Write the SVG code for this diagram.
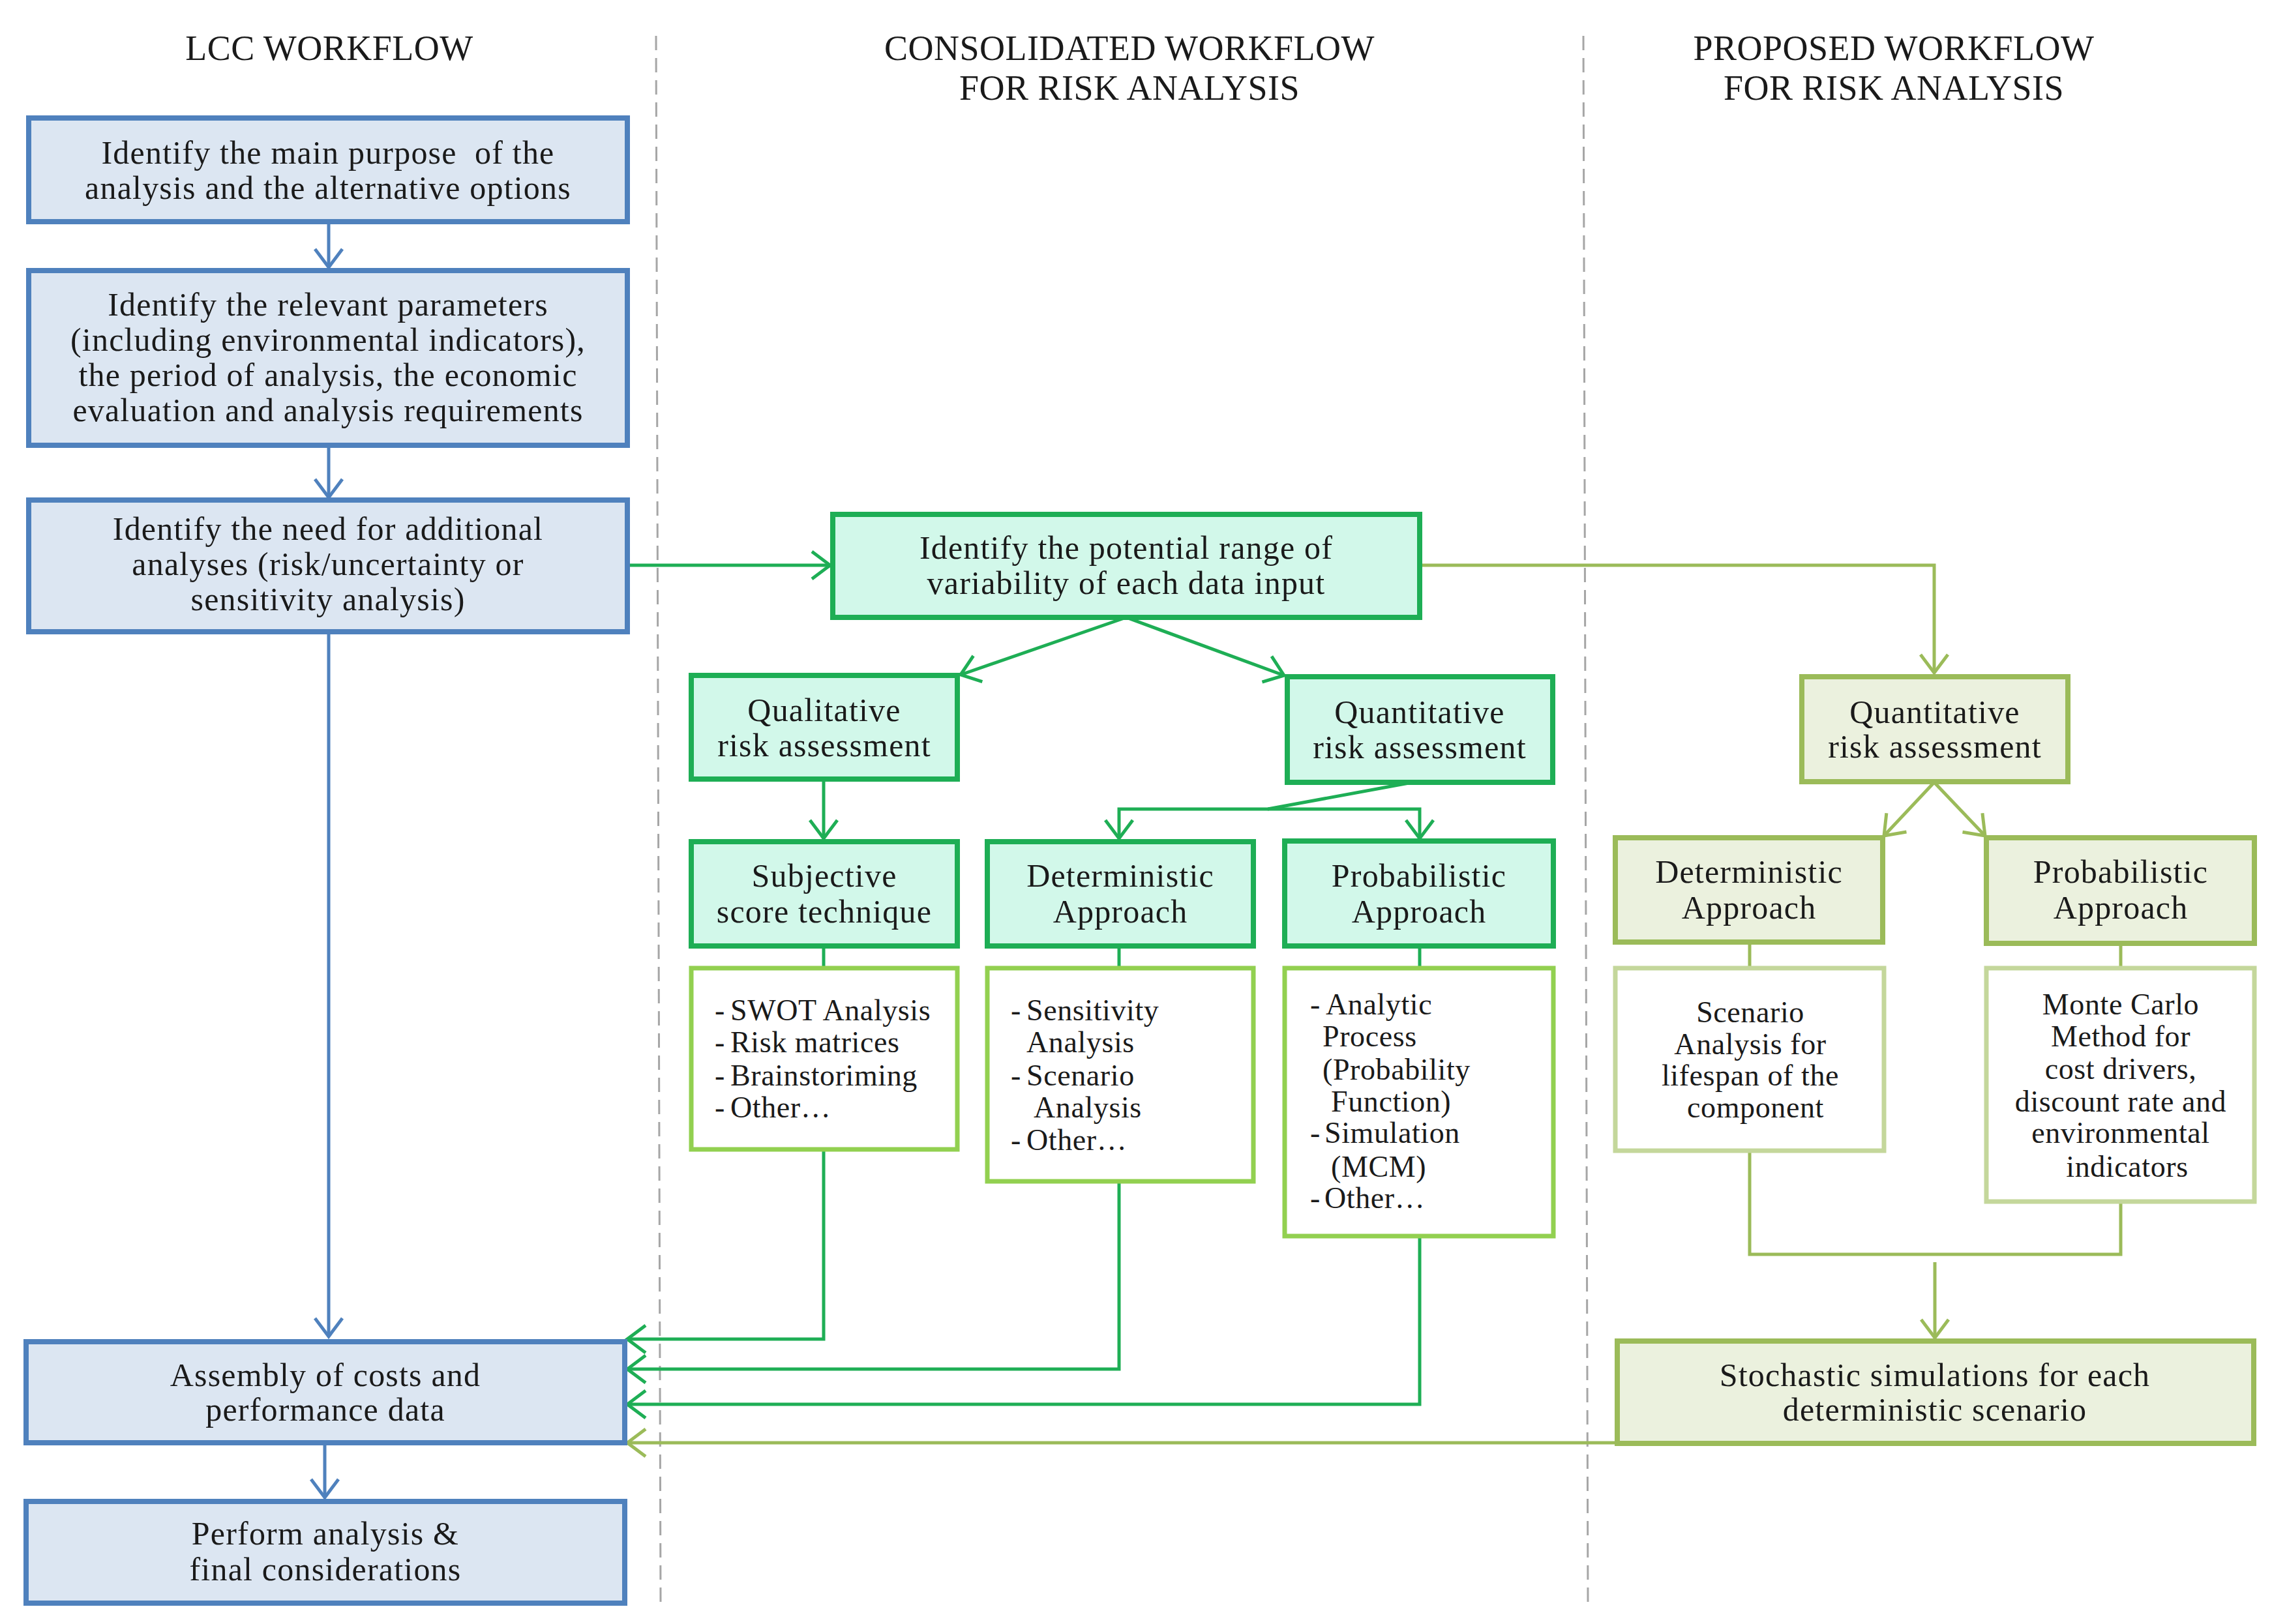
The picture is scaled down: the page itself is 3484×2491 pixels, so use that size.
<svg xmlns="http://www.w3.org/2000/svg" width="3484" height="2491" viewBox="0 0 3484 2491">
<style>
text{font-family:"Liberation Serif","Times New Roman",serif;fill:#1a1a1a}
.t{font-size:54px;letter-spacing:0.5px;text-anchor:middle}
.m{font-size:50px;letter-spacing:1.2px;text-anchor:middle}
.l{font-size:46px;letter-spacing:0.6px}
.lc{font-size:46px;letter-spacing:0.6px;text-anchor:middle}
.blue{fill:#DCE6F2;stroke:#4F81BD;stroke-width:8}
.grn{fill:#D2F8EA;stroke:#1EAE55;stroke-width:8}
.glist{fill:#FFFFFF;stroke:#92D050;stroke-width:7}
.olv{fill:#EBF1DE;stroke:#9BBB59;stroke-width:8}
.olist{fill:#FFFFFF;stroke:#C4D79B;stroke-width:7}
.cb{fill:none;stroke:#4F81BD;stroke-width:5}
.cg{fill:none;stroke:#1EAE55;stroke-width:5}
.co{fill:none;stroke:#9BBB59;stroke-width:5}
.dash{stroke:#A6A6A6;stroke-width:3;stroke-dasharray:22 12}
</style>
<defs>
<marker id="ab" markerUnits="userSpaceOnUse" markerWidth="36" markerHeight="50" viewBox="0 0 36 50" refX="32" refY="25" orient="auto"><path d="M4,4 L32,25 L4,46" fill="none" stroke="#4F81BD" stroke-width="5"/></marker>
<marker id="ag" markerUnits="userSpaceOnUse" markerWidth="36" markerHeight="50" viewBox="0 0 36 50" refX="32" refY="25" orient="auto"><path d="M4,4 L32,25 L4,46" fill="none" stroke="#1EAE55" stroke-width="5"/></marker>
<marker id="ao" markerUnits="userSpaceOnUse" markerWidth="36" markerHeight="50" viewBox="0 0 36 50" refX="32" refY="25" orient="auto"><path d="M4,4 L32,25 L4,46" fill="none" stroke="#9BBB59" stroke-width="5"/></marker>
</defs>
<rect width="3484" height="2491" fill="#FFFFFF"/>

<g id="separators">
<line class="dash" x1="1006" y1="55" x2="1013" y2="2457"/>
<line class="dash" x1="2428" y1="55" x2="2435" y2="2460"/>
</g>

<g id="titles">
<text class="t" x="505" y="92">LCC WORKFLOW</text>
<text class="t" x="1732" y="92">CONSOLIDATED WORKFLOW</text>
<text class="t" x="1732" y="153">FOR RISK ANALYSIS</text>
<text class="t" x="2904" y="92">PROPOSED WORKFLOW</text>
<text class="t" x="2904" y="153">FOR RISK ANALYSIS</text>
</g>

<g id="connectors">
<path class="cb" d="M504,340 L504,410" marker-end="url(#ab)"/>
<path class="cb" d="M504,683 L504,763" marker-end="url(#ab)"/>
<path class="cb" d="M504,969 L504,2050" marker-end="url(#ab)"/>
<path class="cb" d="M498,2213 L498,2297" marker-end="url(#ab)"/>

<path class="cg" d="M962,867 L1273,867" marker-end="url(#ag)"/>
<path class="cg" d="M1727,947 L1473,1035" marker-end="url(#ag)"/>
<path class="cg" d="M1727,947 L1969,1036" marker-end="url(#ag)"/>
<path class="cg" d="M1263,1195 L1263,1286" marker-end="url(#ag)"/>
<path class="cg" d="M2166,1200 L1944,1241 L1716,1241 L1716,1286" marker-end="url(#ag)"/>
<path class="cg" d="M1944,1241 L2177,1241 L2177,1286" marker-end="url(#ag)"/>
<path class="cg" d="M1263,1451 L1263,1485"/>
<path class="cg" d="M1716,1451 L1716,1485"/>
<path class="cg" d="M2177,1451 L2177,1485"/>
<path class="cg" d="M1263,1763 L1263,2054 L962,2054" marker-end="url(#ag)"/>
<path class="cg" d="M1716,1812 L1716,2100 L962,2100" marker-end="url(#ag)"/>
<path class="cg" d="M2177,1896 L2177,2154 L962,2154" marker-end="url(#ag)"/>

<path class="co" d="M2177,867 L2966,867 L2966,1032" marker-end="url(#ao)"/>
<path class="co" d="M2966,1200 L2889,1282" marker-end="url(#ao)"/>
<path class="co" d="M2966,1200 L3044,1282" marker-end="url(#ao)"/>
<path class="co" d="M2683,1445 L2683,1485"/>
<path class="co" d="M3252,1447 L3252,1485"/>
<path class="co" d="M2683,1765 L2683,1924 L3252,1924 L3252,1843"/>
<path class="co" d="M2967,1936 L2967,2052" marker-end="url(#ao)"/>
<path class="co" d="M2478,2213 L962,2213" marker-end="url(#ao)"/>
</g>

<g id="n-purpose">
<rect class="blue" x="44" y="181" width="918" height="159"/>
<text class="m" x="503" y="251" xml:space="preserve">Identify the main purpose  of the</text>
<text class="m" x="503" y="305">analysis and the alternative options</text>
</g>
<g id="n-parameters">
<rect class="blue" x="44" y="415" width="918" height="268"/>
<text class="m" x="503" y="484">Identify the relevant parameters</text>
<text class="m" x="503" y="538">(including environmental indicators),</text>
<text class="m" x="503" y="592">the period of analysis, the economic</text>
<text class="m" x="503" y="646">evaluation and analysis requirements</text>
</g>
<g id="n-need">
<rect class="blue" x="44" y="767" width="918" height="202"/>
<text class="m" x="503" y="828">Identify the need for additional</text>
<text class="m" x="503" y="882">analyses (risk/uncertainty or</text>
<text class="m" x="503" y="936">sensitivity analysis)</text>
</g>
<g id="n-assembly">
<rect class="blue" x="40" y="2058" width="918" height="155"/>
<text class="m" x="499" y="2126">Assembly of costs and</text>
<text class="m" x="499" y="2179">performance data</text>
</g>
<g id="n-perform">
<rect class="blue" x="40" y="2303" width="918" height="156"/>
<text class="m" x="499" y="2369">Perform analysis &amp;</text>
<text class="m" x="499" y="2424">final considerations</text>
</g>

<g id="n-range">
<rect class="grn" x="1277" y="789" width="900" height="158"/>
<text class="m" x="1727" y="857">Identify the potential range of</text>
<text class="m" x="1727" y="911">variability of each data input</text>
</g>
<g id="n-qualitative">
<rect class="grn" x="1060" y="1036" width="408" height="159"/>
<text class="m" x="1264" y="1106">Qualitative</text>
<text class="m" x="1264" y="1160">risk assessment</text>
</g>
<g id="n-quantitative-c">
<rect class="grn" x="1974" y="1038" width="407" height="162"/>
<text class="m" x="2177" y="1109">Quantitative</text>
<text class="m" x="2177" y="1163">risk assessment</text>
</g>
<g id="n-subjective">
<rect class="grn" x="1060" y="1291" width="408" height="160"/>
<text class="m" x="1264" y="1360">Subjective</text>
<text class="m" x="1264" y="1415">score technique</text>
</g>
<g id="n-deterministic-c">
<rect class="grn" x="1514" y="1291" width="408" height="160"/>
<text class="m" x="1718" y="1360">Deterministic</text>
<text class="m" x="1718" y="1415">Approach</text>
</g>
<g id="n-probabilistic-c">
<rect class="grn" x="1970" y="1290" width="412" height="161"/>
<text class="m" x="2176" y="1360">Probabilistic</text>
<text class="m" x="2176" y="1415">Approach</text>
</g>

<g id="n-list-subjective">
<rect class="glist" x="1060" y="1485" width="408" height="278"/>
<text class="l" x="1096" y="1565">-</text><text class="l" x="1120" y="1565">SWOT Analysis</text>
<text class="l" x="1096" y="1614">-</text><text class="l" x="1120" y="1614">Risk matrices</text>
<text class="l" x="1096" y="1665">-</text><text class="l" x="1120" y="1665">Brainstoriming</text>
<text class="l" x="1096" y="1714">-</text><text class="l" x="1120" y="1714">Other…</text>
</g>
<g id="n-list-deterministic">
<rect class="glist" x="1514" y="1485" width="408" height="327"/>
<text class="l" x="1550" y="1565">-</text><text class="l" x="1574" y="1565">Sensitivity</text>
<text class="l" x="1574" y="1614">Analysis</text>
<text class="l" x="1550" y="1665">-</text><text class="l" x="1574" y="1665">Scenario</text>
<text class="l" x="1585" y="1714">Analysis</text>
<text class="l" x="1550" y="1764">-</text><text class="l" x="1574" y="1764">Other…</text>
</g>
<g id="n-list-probabilistic">
<rect class="glist" x="1970" y="1485" width="412" height="411"/>
<text class="l" x="2009" y="1556">-</text><text class="l" x="2033" y="1556">Analytic</text>
<text class="l" x="2028" y="1605">Process</text>
<text class="l" x="2028" y="1656">(Probability</text>
<text class="l" x="2041" y="1705">Function)</text>
<text class="l" x="2009" y="1753">-</text><text class="l" x="2031" y="1753">Simulation</text>
<text class="l" x="2041" y="1805">(MCM)</text>
<text class="l" x="2009" y="1853">-</text><text class="l" x="2031" y="1853">Other…</text>
</g>

<g id="n-quantitative-p">
<rect class="olv" x="2763" y="1038" width="408" height="161"/>
<text class="m" x="2967" y="1109">Quantitative</text>
<text class="m" x="2967" y="1162">risk assessment</text>
</g>
<g id="n-deterministic-p">
<rect class="olv" x="2477" y="1285" width="410" height="160"/>
<text class="m" x="2682" y="1354">Deterministic</text>
<text class="m" x="2682" y="1409">Approach</text>
</g>
<g id="n-probabilistic-p">
<rect class="olv" x="3046" y="1285" width="411" height="162"/>
<text class="m" x="3252" y="1354">Probabilistic</text>
<text class="m" x="3252" y="1409">Approach</text>
</g>
<g id="n-list-scenario">
<rect class="olist" x="2477" y="1485" width="412" height="280"/>
<text class="lc" x="2684" y="1568">Scenario</text>
<text class="lc" x="2684" y="1617">Analysis for</text>
<text class="lc" x="2684" y="1665">lifespan of the</text>
<text class="lc" x="2692" y="1714">component</text>
</g>
<g id="n-list-montecarlo">
<rect class="olist" x="3046" y="1485" width="411" height="358"/>
<text class="lc" x="3252" y="1556">Monte Carlo</text>
<text class="lc" x="3252" y="1605">Method for</text>
<text class="lc" x="3252" y="1655">cost drivers,</text>
<text class="lc" x="3252" y="1705">discount rate and</text>
<text class="lc" x="3252" y="1753">environmental</text>
<text class="lc" x="3262" y="1805">indicators</text>
</g>
<g id="n-stochastic">
<rect class="olv" x="2480" y="2057" width="976" height="157"/>
<text class="m" x="2967" y="2126">Stochastic simulations for each</text>
<text class="m" x="2967" y="2179">deterministic scenario</text>
</g>
</svg>
